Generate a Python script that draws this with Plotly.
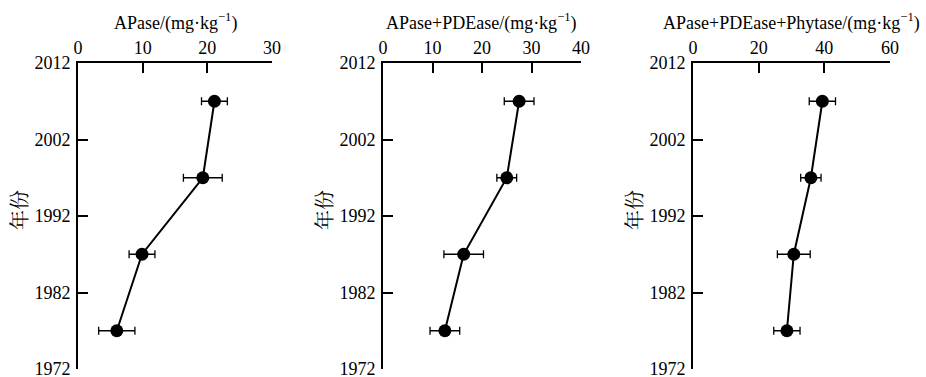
import plotly.graph_objects as go

years = [2007, 1997, 1987, 1977]
apase = [21.1, 19.3, 9.9, 6.0]
apase_err = [2.0, 3.0, 2.0, 2.8]
apde = [27.5, 25.0, 16.3, 12.5]
apde_err = [3.0, 2.0, 4.0, 3.0]
apdp = [39.4, 35.9, 30.7, 28.6]
apdp_err = [4.0, 3.1, 5.0, 4.0]

titles = ["APase/(mg·kg<sup>−1</sup>)",
          "APase+PDEase/(mg·kg<sup>−1</sup>)",
          "APase+PDEase+Phytase/(mg·kg<sup>−1</sup>)"]
xmax = [30, 40, 60]
xticks = [[0, 10, 20, 30], [0, 10, 20, 30, 40], [0, 20, 40, 60]]
ytick_vals = [1972, 1982, 1992, 2002, 2012]
ylabel = "年份"

series = [(apase, apase_err), (apde, apde_err), (apdp, apdp_err)]

W, H = 926, 377
domains_px = [(78, 272), (383, 581), (693, 890)]
top_px, bot_px = 63, 369

FONT = "Liberation Serif, Times New Roman, Noto Serif CJK SC, Noto Sans CJK SC, serif"

fig = go.Figure()
annotations = []
for i, ((vals, errs), (x0, x1)) in enumerate(zip(series, domains_px)):
    idx = "" if i == 0 else str(i + 1)
    fig.add_trace(go.Scatter(
        x=vals, y=years, mode="lines+markers",
        line=dict(color="black", width=2),
        marker=dict(color="black", size=13),
        error_x=dict(type="data", array=errs, visible=True, color="black",
                     thickness=1.3, width=4),
        xaxis="x" + idx, yaxis="y" + idx, showlegend=False,
        cliponaxis=False, hoverinfo="skip",
    ))
    common = dict(showgrid=False, zeroline=False, showline=True, linecolor="black",
                  linewidth=2, ticks="inside", ticklen=10, tickwidth=2, tickcolor="black",
                  automargin=False, ticklabeloverflow="allow",
                  tickfont=dict(family=FONT, size=18, color="black"))
    fig.layout["xaxis" + idx] = dict(
        domain=[x0 / W, x1 / W], range=[0, xmax[i]], tickvals=xticks[i],
        side="top", anchor="y" + idx, ticklabelstandoff=0, **common)
    fig.layout["yaxis" + idx] = dict(
        domain=[(H - bot_px) / H, (H - top_px) / H], range=[1972, 2012],
        tickvals=ytick_vals, anchor="x" + idx, ticklabelstandoff=2, **common)
    annotations.append(dict(
        text=titles[i], xref="paper", yref="paper",
        x=(x0 + x1) / 2 / W, y=(H - 22) / H, showarrow=False,
        xanchor="center", yanchor="middle",
        font=dict(family=FONT, size=18, color="black")))
    annotations.append(dict(
        text=ylabel, xref="paper", yref="paper",
        x=(x0 - 58) / W, y=(H - 210) / H, showarrow=False, textangle=-90,
        xanchor="center", yanchor="middle",
        font=dict(family=FONT, size=20, color="black")))

fig.update_layout(
    width=W, height=H, margin=dict(l=0, r=0, t=0, b=0, autoexpand=False),
    paper_bgcolor="white", plot_bgcolor="white",
    annotations=annotations, hovermode=False,
)
fig.write_html("out.html", config={"displayModeBar": False},
               post_script="document.body.style.margin='0';document.body.style.overflow='hidden';")
